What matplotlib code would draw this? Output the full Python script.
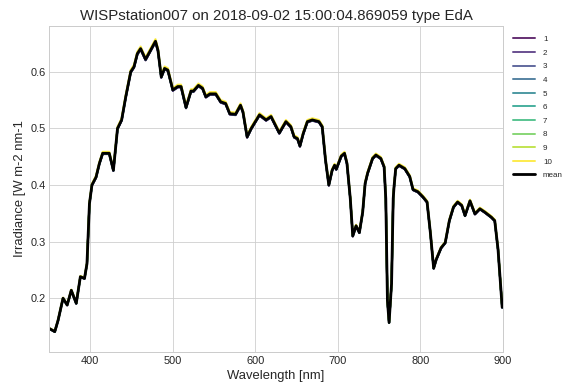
import numpy as np
import matplotlib
matplotlib.use('Agg')
import matplotlib.pyplot as plt

# Mean downwelling irradiance spectrum
wavelength = [350, 351, 357, 361, 367, 372, 377, 383, 388, 393, 396, 399, 402, 407, 411, 415, 423,
              428, 433, 438, 443, 449, 453, 457, 461, 467, 473, 479, 482, 486, 490, 494, 500,
              506, 510, 516, 522, 525, 531, 536, 540, 545, 552, 558, 564, 569, 576, 582, 585,
              590, 595, 605, 613, 619, 629, 637, 643, 647, 651, 654, 658, 663, 669, 677, 681,
              685, 689, 693, 696, 698, 704, 708, 711, 715, 718, 722, 726, 730, 733, 736, 742,
              746, 752, 756, 758, 760, 762, 765, 767, 768, 770, 774, 781, 787, 791, 797, 803,
              808, 812, 816, 819, 825, 830, 835, 840, 845, 850, 854, 860, 866, 872, 878, 886,
              890, 894, 899, 900]
mean_irr = [0.146, 0.146, 0.141, 0.161, 0.200, 0.188, 0.214, 0.191, 0.238, 0.235, 0.261, 0.367,
            0.400, 0.414, 0.438, 0.456, 0.456, 0.426, 0.500, 0.515, 0.556, 0.600, 0.609, 0.632,
            0.641, 0.622, 0.638, 0.654, 0.638, 0.591, 0.606, 0.603, 0.568, 0.574, 0.574, 0.537,
            0.566, 0.566, 0.576, 0.571, 0.556, 0.561, 0.561, 0.547, 0.544, 0.526, 0.525, 0.541,
            0.529, 0.485, 0.500, 0.524, 0.515, 0.521, 0.492, 0.512, 0.503, 0.485, 0.482, 0.469,
            0.491, 0.512, 0.515, 0.512, 0.503, 0.444, 0.400, 0.426, 0.435, 0.428, 0.451, 0.456,
            0.438, 0.376, 0.310, 0.328, 0.316, 0.352, 0.403, 0.421, 0.447, 0.453, 0.447, 0.432,
            0.376, 0.196, 0.157, 0.226, 0.376, 0.397, 0.429, 0.435, 0.429, 0.415, 0.392, 0.388,
            0.379, 0.370, 0.316, 0.253, 0.268, 0.289, 0.298, 0.337, 0.361, 0.370, 0.364, 0.346,
            0.372, 0.349, 0.358, 0.352, 0.343, 0.337, 0.286, 0.184, 0.185]

# per-scan level relative to the mean (scans nearly coincide)
scan_labels = ['1', '2', '3', '4', '5', '6', '7', '8', '9', '10']
scan_level = [0.997, 0.998, 0.998, 0.999, 1.000, 1.000, 1.001, 1.002, 1.003, 1.006]

plt.style.use('seaborn-v0_8-whitegrid')
plt.rcParams['font.family'] = ['Liberation Sans', 'DejaVu Sans']

fig = plt.figure(figsize=(567 / 72, 390 / 72), dpi=72)
ax = fig.add_axes([49 / 567, 1 - 352 / 390, (503 - 49) / 567, (352 - 26) / 390])

wl = np.array(wavelength)
mean = np.array(mean_irr)
colors = plt.cm.viridis(np.linspace(0, 1, len(scan_labels)))
for lab, lev, c in zip(scan_labels, scan_level, colors):
    ax.plot(wl, mean * lev, color=c, alpha=0.8, linewidth=2, label=lab)
ax.plot(wl, mean, color='black', linewidth=2.8, label='mean')

ax.set_xlim(350, 900)
ax.set_ylim(0.105, 0.681)
ax.set_xticks([400, 500, 600, 700, 800, 900])
ax.set_yticks([0.2, 0.3, 0.4, 0.5, 0.6])
ax.tick_params(labelsize=11)
ax.set_xlabel('Wavelength [nm]', fontsize=13)
ax.set_ylabel('Irradiance [W m-2 nm-1', fontsize=13)
ax.set_title('WISPstation007 on 2018-09-02 15:00:04.869059 type EdA', fontsize=15)
ax.legend(loc='upper left', bbox_to_anchor=(1.0, 1.0), fontsize=8,
          handlelength=2.8, handletextpad=1.0, labelspacing=0.75,
          borderaxespad=0.8, frameon=False)

fig.savefig('out.png', dpi=72)
